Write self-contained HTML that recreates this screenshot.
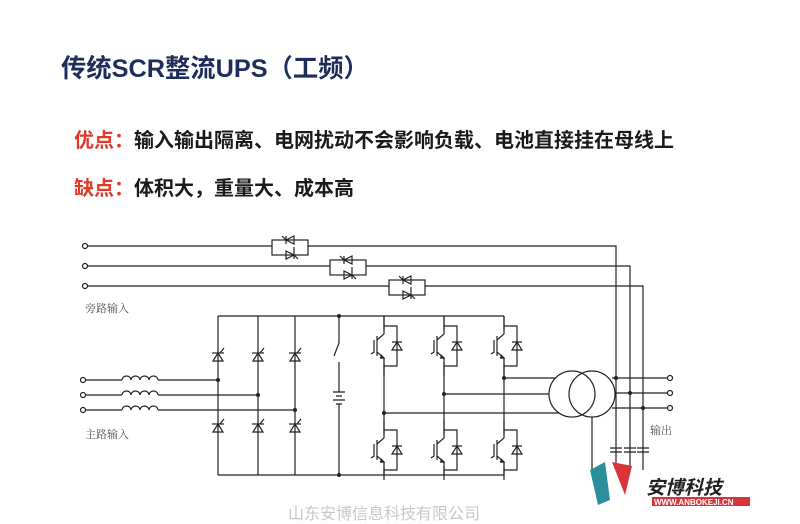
<!DOCTYPE html>
<html><head><meta charset="utf-8"><style>
body{margin:0;width:800px;height:524px;background:#fff;overflow:hidden;position:relative;font-family:"Liberation Sans","Noto Sans CJK SC",sans-serif}
.t{position:absolute;white-space:nowrap}
</style></head><body>
<div class="t" style="left:61px;top:49px;font-size:25.3px;font-weight:bold;color:#1f2d5a;">传统SCR整流UPS（工频）</div>
<div class="t" style="left:74px;top:124px;font-size:20px;font-weight:bold;color:#1a1a1a;"><span style="color:#e03a2a">优点：</span>输入输出隔离、电网扰动不会影响负载、电池直接挂在母线上</div>
<div class="t" style="left:74px;top:172px;font-size:20px;font-weight:bold;color:#1a1a1a;"><span style="color:#e03a2a">缺点：</span>体积大，重量大、成本高</div>
<svg width="800" height="524" style="position:absolute;left:0;top:0" xmlns="http://www.w3.org/2000/svg">
<defs>
<g id="scr" stroke="#222" stroke-width="1.2" fill="none">
<path d="M-5,4 L5,4 L0,-4 Z"/><path d="M-6,-4 L6,-4"/><path d="M2,-4 L6,-9"/>
</g>
<g id="bidir" stroke="#222" stroke-width="1.2" fill="none">
<rect x="0" y="-6" width="36" height="15" fill="#fff"/>
<path d="M22,-10 L14,-6 L22,-2 Z M14,-10 L14,-2 M14,-6 L10,-10"/>
<path d="M14,5 L22,9 L14,13 Z M22,1 L22,13 M22,9 L26,13"/>
</g>
<g id="igbt" stroke="#222" stroke-width="1.2" fill="none">
<path d="M0,-30 L0,-12 L-7,-6 M-7,-10 L-7,10 M-7,6 L0,12 L0,30"/>
<path d="M-10,-6 L-10,6 L-13,8"/>
<path d="M0,-20 L13,-20 L13,20 L0,20"/>
<path d="M8,4 L18,4 L13,-4 Z M8,-4 L18,-4"/>
<path d="M-3,9 L0,12 L-4,12" fill="#222"/>
</g>
<g id="ind" stroke="#222" stroke-width="1.2" fill="none">
<path d="M0,0 a4.5,4 0 0 1 9,0 a4.5,4 0 0 1 9,0 a4.5,4 0 0 1 9,0 a4.5,4 0 0 1 9,0"/>
</g>
</defs>
<g stroke="#222" stroke-width="1.2" fill="none">
<path d="M88,246 L616,246 L616,470 M88,266 L630,266 L630,470 M88,286 L643,286 L643,470"/>
<circle cx="85" cy="246" r="2.5" fill="#fff"/><circle cx="85" cy="266" r="2.5" fill="#fff"/><circle cx="85" cy="286" r="2.5" fill="#fff"/>
<path d="M218,316 L504,316 M218,475 L504,475 M218,316 L218,475 M258,316 L258,475 M295,316 L295,475"/>
<path d="M86,380 L122,380 M158,380 L218,380 M86,395 L122,395 M158,395 L258,395 M86,410 L122,410 M158,410 L295,410"/>
<circle cx="83" cy="380" r="2.5" fill="#fff"/><circle cx="83" cy="395" r="2.5" fill="#fff"/><circle cx="83" cy="410" r="2.5" fill="#fff"/>
<path d="M339,316 L339,343 L334,356 M339,362 L339,392 M333,392 L345,392 M336,396 L342,396 M333,400 L345,400 M336,404 L342,404 M339,404 L339,475"/>
<path d="M384,316 L384,475 M444,316 L444,475 M504,316 L504,475"/>
<path d="M504,378 L560,378 M444,394 L549,394 M384,413 L560,413"/>
<circle cx="572" cy="394" r="23" fill="#fff"/><circle cx="592" cy="394" r="23" fill="none"/>
<path d="M592,417 L592,475"/>
<path d="M612,378 L667,378 M615,393 L667,393 M612,408 L667,408"/>
<circle cx="670" cy="378" r="2.5" fill="#fff"/><circle cx="670" cy="393" r="2.5" fill="#fff"/><circle cx="670" cy="408" r="2.5" fill="#fff"/>
<path d="M610,448 L622,448 M610,452 L622,452 M624,448 L636,448 M624,452 L636,452 M637,448 L649,448 M637,452 L649,452"/>
</g>
<g fill="#222">
<circle cx="218" cy="380" r="2"/><circle cx="258" cy="395" r="2"/><circle cx="295" cy="410" r="2"/>
<circle cx="339" cy="316" r="2"/><circle cx="339" cy="475" r="2"/>
<circle cx="504" cy="378" r="2"/><circle cx="444" cy="394" r="2"/><circle cx="384" cy="413" r="2"/>
<circle cx="616" cy="378" r="2"/><circle cx="630" cy="393" r="2"/><circle cx="643" cy="408" r="2"/>
</g>
<g fill="#fff">
<rect x="380" y="330" width="8" height="32"/><rect x="440" y="330" width="8" height="32"/><rect x="500" y="330" width="8" height="32"/>
<rect x="380" y="434" width="8" height="32"/><rect x="440" y="434" width="8" height="32"/><rect x="500" y="434" width="8" height="32"/>
</g>
<use href="#ind" x="122" y="380"/><use href="#ind" x="122" y="395"/><use href="#ind" x="122" y="410"/>
<use href="#scr" x="218" y="357"/><use href="#scr" x="258" y="357"/><use href="#scr" x="295" y="357"/>
<use href="#scr" x="218" y="428"/><use href="#scr" x="258" y="428"/><use href="#scr" x="295" y="428"/>
<use href="#bidir" x="272" y="246"/><use href="#bidir" x="330" y="266"/><use href="#bidir" x="389" y="286"/>
<use href="#igbt" x="384" y="346"/><use href="#igbt" x="444" y="346"/><use href="#igbt" x="504" y="346"/>
<use href="#igbt" x="384" y="450"/><use href="#igbt" x="444" y="450"/><use href="#igbt" x="504" y="450"/>
<text x="85" y="312" font-size="11" fill="#555" font-family="Liberation Serif,Noto Serif CJK SC,serif">旁路输入</text>
<text x="85" y="438" font-size="11" fill="#555" font-family="Liberation Serif,Noto Serif CJK SC,serif">主路输入</text>
<text x="650" y="434" font-size="11" fill="#555" font-family="Liberation Serif,Noto Serif CJK SC,serif">输出</text>
<path d="M590,470 L605,462 L610,500 L598,505 Z" fill="#2a8f9a"/>
<path d="M612,462 L632,466 L625,495 Z" fill="#d8343a"/>
<text x="646" y="494" font-size="19" font-weight="bold" font-style="italic" fill="#222">安博科技</text>
<rect x="652" y="497" width="98" height="9" fill="#d8343a"/>
<text x="654" y="505" font-size="8" font-weight="bold" fill="#fff">WWW.ANBOKEJI.CN</text>
<text x="288" y="519" font-size="16" fill="#c8c8c8">山东安博信息科技有限公司</text>
</svg>
</body></html>
